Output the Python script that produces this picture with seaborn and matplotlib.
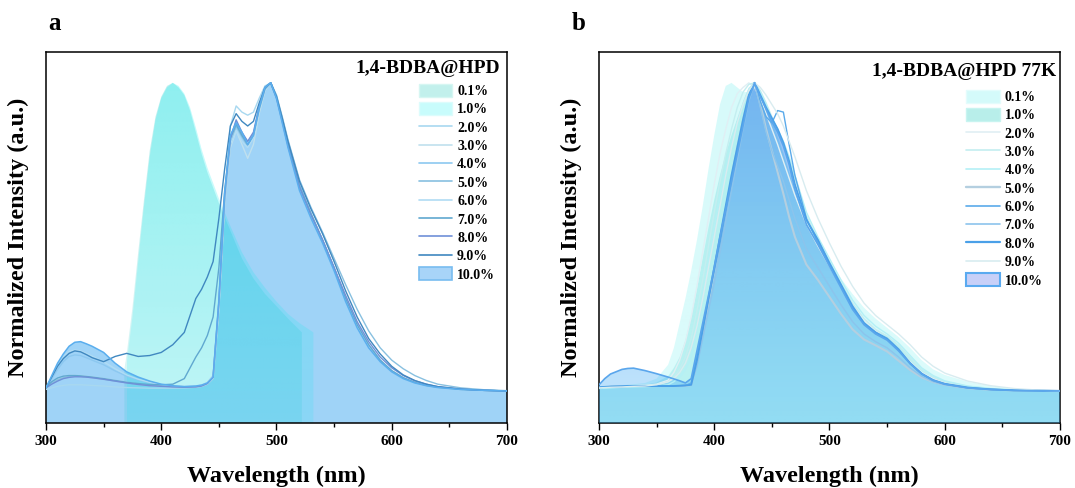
import numpy as np
import matplotlib
matplotlib.use("Agg")
import matplotlib.pyplot as plt
import seaborn as sns
from matplotlib.colors import to_rgb
from matplotlib.patches import Patch
from matplotlib.lines import Line2D
from matplotlib.ticker import MultipleLocator

# ---------------------------------------------------------------- data
CONC_LABELS = ["0.1%", "1.0%", "2.0%", "3.0%", "4.0%", "5.0%",
               "6.0%", "7.0%", "8.0%", "9.0%", "10.0%"]

# Panel a: room-temperature emission
WL_A = [300, 305, 310, 315, 320, 325, 330, 335, 340, 350, 360, 370, 380, 390,
        400, 410, 420, 430, 435, 440, 445, 450, 455, 460, 465, 470, 475, 480,
        485, 490, 495, 500, 505, 510, 520, 530, 540, 550, 560, 570, 580, 590,
        600, 610, 620, 630, 640, 660, 680, 700]

WL_A_01 = [368, 370, 372, 375, 380, 385, 390, 395, 400, 405, 410, 415, 420, 425,
           430, 435, 440, 445, 450, 455, 460, 470, 480, 490, 500, 510, 522]
I_A_01 = [0.07, 0.12, 0.18, 0.27, 0.45, 0.62, 0.78, 0.89, 0.955, 0.99, 1.0, 0.985,
          0.96, 0.91, 0.84, 0.77, 0.71, 0.66, 0.61, 0.565, 0.52, 0.43, 0.365,
          0.315, 0.275, 0.235, 0.19]

WL_A_1 = [370, 372, 375, 380, 385, 390, 395, 400, 405, 410, 415, 420, 425, 430,
          435, 440, 445, 450, 455, 460, 470, 480, 490, 500, 510, 520, 532]
I_A_1 = [0.09, 0.15, 0.24, 0.42, 0.60, 0.76, 0.88, 0.95, 0.985, 1.0, 0.99, 0.965,
         0.92, 0.855, 0.785, 0.725, 0.675, 0.625, 0.58, 0.535, 0.45, 0.385,
         0.335, 0.29, 0.25, 0.22, 0.19]

I_A_2 = [0.005, 0.01, 0.015, 0.018, 0.02, 0.02, 0.02, 0.019, 0.018, 0.016, 0.013,
         0.011, 0.01, 0.009, 0.009, 0.009, 0.01, 0.012, 0.015, 0.022, 0.04, 0.26,
         0.62, 0.86, 0.925, 0.905, 0.895, 0.905, 0.95, 0.99, 1.0, 0.955, 0.88,
         0.80, 0.66, 0.57, 0.485, 0.395, 0.30, 0.215, 0.15, 0.10, 0.066, 0.043,
         0.028, 0.018, 0.012, 0.005, 0.002, 0.0]
I_A_3 = [0.01, 0.025, 0.038, 0.046, 0.05, 0.05, 0.049, 0.047, 0.045, 0.04, 0.034,
         0.028, 0.022, 0.018, 0.015, 0.013, 0.012, 0.013, 0.016, 0.024, 0.045,
         0.27, 0.60, 0.79, 0.845, 0.80, 0.755, 0.80, 0.90, 0.975, 1.0, 0.96,
         0.885, 0.805, 0.665, 0.575, 0.49, 0.40, 0.30, 0.21, 0.145, 0.097, 0.063,
         0.041, 0.027, 0.017, 0.011, 0.005, 0.002, 0.0]
I_A_4 = [0.01, 0.04, 0.07, 0.095, 0.112, 0.117, 0.115, 0.108, 0.10, 0.085, 0.065,
         0.048, 0.036, 0.027, 0.02, 0.016, 0.014, 0.015, 0.018, 0.026, 0.05, 0.30,
         0.63, 0.82, 0.875, 0.835, 0.81, 0.835, 0.92, 0.98, 1.0, 0.95, 0.875,
         0.80, 0.67, 0.575, 0.49, 0.40, 0.305, 0.22, 0.15, 0.10, 0.065, 0.042,
         0.027, 0.018, 0.012, 0.005, 0.002, 0.0]
I_A_5 = [0.012, 0.025, 0.036, 0.043, 0.047, 0.048, 0.047, 0.045, 0.043, 0.038,
         0.032, 0.027, 0.022, 0.018, 0.016, 0.014, 0.013, 0.014, 0.017, 0.025,
         0.045, 0.28, 0.61, 0.80, 0.86, 0.825, 0.795, 0.83, 0.915, 0.98, 1.0,
         0.96, 0.89, 0.815, 0.685, 0.595, 0.515, 0.43, 0.345, 0.265, 0.195, 0.14,
         0.10, 0.072, 0.05, 0.034, 0.022, 0.01, 0.004, 0.001]
I_A_6 = [0.01, 0.045, 0.08, 0.11, 0.128, 0.133, 0.13, 0.122, 0.113, 0.095, 0.072,
         0.052, 0.038, 0.028, 0.021, 0.017, 0.015, 0.016, 0.019, 0.028, 0.05,
         0.29, 0.62, 0.80, 0.845, 0.81, 0.79, 0.82, 0.91, 0.975, 1.0, 0.955,
         0.88, 0.80, 0.66, 0.57, 0.485, 0.395, 0.30, 0.215, 0.148, 0.10, 0.065,
         0.042, 0.027, 0.018, 0.012, 0.005, 0.002, 0.0]
I_A_7 = [0.012, 0.03, 0.042, 0.048, 0.05, 0.05, 0.049, 0.047, 0.045, 0.04, 0.034,
         0.028, 0.024, 0.021, 0.02, 0.022, 0.04, 0.11, 0.14, 0.18, 0.24, 0.40,
         0.65, 0.82, 0.865, 0.83, 0.80, 0.83, 0.915, 0.98, 1.0, 0.955, 0.88,
         0.80, 0.665, 0.575, 0.49, 0.40, 0.30, 0.215, 0.15, 0.10, 0.066, 0.043,
         0.028, 0.018, 0.012, 0.005, 0.002, 0.0]
I_A_8 = [0.01, 0.022, 0.032, 0.04, 0.044, 0.046, 0.046, 0.045, 0.043, 0.038,
         0.032, 0.026, 0.021, 0.017, 0.015, 0.013, 0.012, 0.013, 0.016, 0.024,
         0.045, 0.29, 0.63, 0.82, 0.88, 0.84, 0.81, 0.84, 0.925, 0.985, 1.0,
         0.95, 0.875, 0.795, 0.66, 0.57, 0.49, 0.40, 0.31, 0.225, 0.16, 0.11,
         0.075, 0.05, 0.033, 0.022, 0.014, 0.006, 0.002, 0.0]
I_A_9 = [0.01, 0.045, 0.08, 0.105, 0.122, 0.13, 0.127, 0.118, 0.108, 0.095, 0.112,
         0.122, 0.112, 0.115, 0.125, 0.15, 0.19, 0.30, 0.33, 0.37, 0.42, 0.56,
         0.72, 0.86, 0.90, 0.875, 0.86, 0.875, 0.935, 0.985, 1.0, 0.955, 0.885,
         0.81, 0.68, 0.59, 0.51, 0.42, 0.325, 0.24, 0.17, 0.12, 0.08, 0.052,
         0.034, 0.022, 0.014, 0.006, 0.002, 0.0]
I_A_10 = [0.01, 0.05, 0.09, 0.12, 0.145, 0.158, 0.16, 0.153, 0.145, 0.125, 0.09,
          0.062, 0.045, 0.032, 0.022, 0.017, 0.014, 0.016, 0.019, 0.026, 0.045,
          0.29, 0.64, 0.83, 0.87, 0.84, 0.80, 0.83, 0.92, 0.985, 1.0, 0.95, 0.87,
          0.79, 0.65, 0.56, 0.48, 0.39, 0.29, 0.205, 0.14, 0.095, 0.062, 0.04,
          0.026, 0.017, 0.011, 0.005, 0.002, 0.0]

# Panel b: 77 K emission
WL_B = [300, 305, 310, 320, 325, 330, 340, 350, 360, 365, 370, 375, 380, 385,
        390, 395, 400, 405, 410, 415, 420, 425, 430, 435, 440, 445, 450, 455,
        460, 465, 470, 480, 490, 500, 510, 520, 530, 540, 550, 560, 570, 580,
        590, 600, 620, 640, 660, 680, 700]

I_B_01 = [0.01, 0.012, 0.014, 0.018, 0.02, 0.022, 0.026, 0.04, 0.085,
          0.14, 0.22, 0.30, 0.39, 0.49, 0.60, 0.72, 0.83, 0.93, 0.99, 1.0, 0.985,
          0.97, 0.97, 0.975, 0.955, 0.925, 0.88, 0.83, 0.775, 0.715, 0.66,
          0.56, 0.485, 0.425, 0.365, 0.315, 0.27, 0.235, 0.205, 0.175, 0.14,
          0.10, 0.07, 0.052, 0.03, 0.016, 0.007, 0.003, 0.0]
I_B_1 = [0.01, 0.011, 0.012, 0.015, 0.016, 0.017, 0.02, 0.028, 0.048,
         0.075, 0.11, 0.165, 0.24, 0.33, 0.43, 0.53, 0.62, 0.70, 0.77, 0.83,
         0.885, 0.94, 0.985, 1.0, 0.97, 0.925, 0.875, 0.825, 0.77, 0.71, 0.65,
         0.545, 0.475, 0.41, 0.345, 0.285, 0.235, 0.2, 0.18, 0.15, 0.11, 0.072,
         0.048, 0.032, 0.016, 0.008, 0.003, 0.001, 0.0]
I_B_2 = [0.01, 0.012, 0.013, 0.015, 0.016, 0.017, 0.018, 0.022, 0.035,
         0.06, 0.1, 0.16, 0.24, 0.34, 0.45, 0.56, 0.67, 0.77, 0.85, 0.92, 0.965,
         0.985, 1.0, 0.985, 0.95, 0.90, 0.85, 0.80, 0.745, 0.69, 0.635,
         0.54, 0.47, 0.405, 0.34, 0.28, 0.23, 0.195, 0.17, 0.135, 0.095, 0.06,
         0.04, 0.027, 0.013, 0.006, 0.002, 0.001, 0.0]
I_B_3 = [0.01, 0.011, 0.012, 0.014, 0.015, 0.016, 0.017, 0.02, 0.03,
         0.045, 0.07, 0.11, 0.17, 0.26, 0.36, 0.47, 0.58, 0.68, 0.77, 0.85, 0.92,
         0.97, 0.995, 1.0, 0.975, 0.935, 0.89, 0.845, 0.80, 0.75, 0.69,
         0.57, 0.49, 0.42, 0.35, 0.285, 0.235, 0.20, 0.178, 0.148, 0.108, 0.07,
         0.046, 0.03, 0.015, 0.007, 0.003, 0.001, 0.0]
I_B_4 = [0.008, 0.009, 0.01, 0.012, 0.013, 0.013, 0.014, 0.016, 0.02,
         0.03, 0.045, 0.07, 0.11, 0.2, 0.31, 0.42, 0.53, 0.63, 0.72, 0.80, 0.87,
         0.93, 0.98, 1.0, 0.97, 0.93, 0.885, 0.85, 0.81, 0.76, 0.70,
         0.58, 0.50, 0.43, 0.36, 0.295, 0.245, 0.21, 0.185, 0.155, 0.115, 0.075,
         0.05, 0.033, 0.016, 0.008, 0.003, 0.001, 0.0]
I_B_5 = [0.012, 0.013, 0.014, 0.015, 0.016, 0.016, 0.016, 0.016, 0.016,
         0.016, 0.016, 0.017, 0.02, 0.09, 0.19, 0.29, 0.39, 0.49, 0.59, 0.69,
         0.79, 0.88, 0.96, 1.0, 0.93, 0.85, 0.78, 0.71, 0.64, 0.565, 0.50,
         0.41, 0.36, 0.305, 0.25, 0.2, 0.167, 0.148, 0.128, 0.098, 0.068, 0.044,
         0.029, 0.02, 0.009, 0.004, 0.002, 0.001, 0.0]
I_B_6 = [0.012, 0.013, 0.014, 0.015, 0.016, 0.016, 0.016, 0.016, 0.016,
         0.016, 0.017, 0.018, 0.025, 0.11, 0.2, 0.3, 0.39, 0.48, 0.58, 0.68,
         0.78, 0.87, 0.95, 1.0, 0.94, 0.89, 0.87, 0.91, 0.905, 0.80, 0.70,
         0.56, 0.48, 0.41, 0.34, 0.27, 0.22, 0.19, 0.168, 0.132, 0.09, 0.056,
         0.035, 0.023, 0.01, 0.005, 0.002, 0.001, 0.0]
I_B_7 = [0.012, 0.013, 0.014, 0.015, 0.016, 0.016, 0.016, 0.016, 0.016,
         0.016, 0.017, 0.018, 0.022, 0.08, 0.17, 0.26, 0.35, 0.45, 0.55, 0.65,
         0.75, 0.85, 0.94, 1.0, 0.92, 0.84, 0.78, 0.73, 0.68, 0.62, 0.56,
         0.46, 0.40, 0.34, 0.28, 0.225, 0.185, 0.16, 0.14, 0.11, 0.075, 0.048,
         0.03, 0.02, 0.009, 0.004, 0.002, 0.001, 0.0]
I_B_8 = [0.012, 0.013, 0.014, 0.015, 0.016, 0.016, 0.016, 0.016, 0.016,
         0.016, 0.017, 0.018, 0.02, 0.1, 0.2, 0.3, 0.40, 0.50, 0.60, 0.70,
         0.79, 0.88, 0.96, 1.0, 0.96, 0.92, 0.885, 0.85, 0.805, 0.745, 0.67,
         0.555, 0.49, 0.415, 0.345, 0.275, 0.22, 0.19, 0.17, 0.135, 0.09, 0.056,
         0.035, 0.023, 0.011, 0.005, 0.002, 0.001, 0.0]
I_B_9 = [0.01, 0.011, 0.012, 0.013, 0.014, 0.015, 0.016, 0.02, 0.03,
         0.04, 0.06, 0.09, 0.14, 0.21, 0.30, 0.40, 0.50, 0.60, 0.70, 0.79, 0.87,
         0.93, 0.975, 1.0, 0.985, 0.96, 0.93, 0.90, 0.86, 0.81, 0.76,
         0.65, 0.56, 0.48, 0.405, 0.34, 0.285, 0.245, 0.215, 0.185, 0.15, 0.11,
         0.08, 0.058, 0.032, 0.017, 0.008, 0.003, 0.0]
I_B_10 = [0.02, 0.04, 0.055, 0.07, 0.073, 0.074, 0.066, 0.056, 0.045,
          0.039, 0.033, 0.026, 0.04, 0.13, 0.22, 0.31, 0.40, 0.50, 0.59, 0.68,
          0.77, 0.86, 0.95, 1.0, 0.955, 0.915, 0.875, 0.84, 0.795, 0.735, 0.655,
          0.54, 0.475, 0.405, 0.335, 0.265, 0.215, 0.185, 0.165, 0.13, 0.088,
          0.055, 0.034, 0.022, 0.01, 0.005, 0.002, 0.001, 0.0]

# line colours for the 2.0 % ... 9.0 % traces
COLORS_A = ["#a8d8f0", "#c0e0ee", "#8cc8f0", "#88c0e0",
            "#b0dcf4", "#60a8d0", "#7090d8", "#4088c0"]
COLORS_B = ["#e0eff4", "#c4eef0", "#b4f0f6", "#b4cfe0",
            "#5aaaea", "#8cc4ec", "#4aa0e8", "#d8ecf0"]
WIDTHS_B = [1.0, 1.0, 1.0, 1.5, 1.0, 1.0, 1.4, 1.0]

XLIM = (300, 700)
YLIM = (-0.104, 1.10)

# ---------------------------------------------------------------- style
sns.set_theme(style="ticks")
plt.rcParams["font.family"] = ["Liberation Serif", "DejaVu Serif"]
plt.rcParams["font.weight"] = "bold"
plt.rcParams["axes.labelweight"] = "bold"
plt.rcParams["text.color"] = "black"
plt.rcParams["axes.labelcolor"] = "black"
plt.rcParams["xtick.color"] = "black"
plt.rcParams["xtick.labelcolor"] = "black"
plt.rcParams["axes.edgecolor"] = "black"
plt.rcParams["axes.linewidth"] = 1.1


def gradient_fill(ax, x, y, c_top, c_bottom, a_top, a_bottom, z):
    """Fill under a spectrum down to the frame with a vertical colour ramp."""
    x = np.asarray(x, float)
    y = np.asarray(y, float)
    floor = YLIM[0]
    poly = ax.fill_between(x, y, floor, facecolor="none", edgecolor="none",
                           zorder=z)
    n = 256
    t = np.linspace(0.0, 1.0, n)[:, None]
    img = np.zeros((n, 1, 4))
    img[:, 0, :3] = (1 - t) * np.array(to_rgb(c_bottom)) + t * np.array(to_rgb(c_top))
    img[:, 0, 3] = a_bottom + (a_top - a_bottom) * t[:, 0]
    im = ax.imshow(img, extent=[x.min(), x.max(), floor, 1.0], origin="lower",
                   aspect="auto", interpolation="bilinear", zorder=z)
    im.set_clip_path(poly.get_paths()[0], transform=ax.transData)


def style_axes(ax):
    ax.set_xlim(*XLIM)
    ax.set_ylim(*YLIM)
    ax.set_yticks([])
    ax.xaxis.set_major_locator(MultipleLocator(100))
    ax.xaxis.set_minor_locator(MultipleLocator(50))
    ax.tick_params(axis="x", which="major", direction="out", length=5,
                   width=1.0, labelsize=11, pad=4, top=False, color="black",
                   labelcolor="black")
    ax.tick_params(axis="x", which="minor", direction="out", length=3,
                   width=1.0, top=False, color="black")
    for lab in ax.get_xticklabels():
        lab.set_fontweight("bold")
    for sp in ax.spines.values():
        sp.set_visible(True)
        sp.set_color("black")
        sp.set_linewidth(1.1)
    ax.set_xlabel("Wavelength (nm)", fontsize=17.5, fontweight="bold",
                  labelpad=12.5, color="black")
    ax.set_ylabel("Normalized Intensity (a.u.)", fontsize=17.5,
                  fontweight="bold", labelpad=12, color="black")


fig = plt.figure(figsize=(10.75, 4.88), dpi=100)
ax_a = fig.add_axes([0.0428, 0.1332, 0.4288, 0.7602])
ax_b = fig.add_axes([0.5572, 0.1332, 0.4288, 0.7602])

# ---------------------------------------------------------------- panel a
gradient_fill(ax_a, WL_A, I_A_10, "#3fa8f0", "#3fa8f0", 0.50, 0.50, z=1)
gradient_fill(ax_a, WL_A_01, I_A_01, "#10c8c8", "#10c8c8", 0.27, 0.14, z=2)
gradient_fill(ax_a, WL_A_1, I_A_1, "#00eef0", "#00eef0", 0.25, 0.13, z=2)

lines_a = [I_A_2, I_A_3, I_A_4, I_A_5, I_A_6, I_A_7, I_A_8, I_A_9]
for vals, col in zip(lines_a, COLORS_A):
    sns.lineplot(x=WL_A, y=vals, ax=ax_a, color=col, lw=1.0, sort=False,
                 estimator=None, zorder=3)
sns.lineplot(x=WL_A, y=I_A_10, ax=ax_a, color="#5aaeee", lw=1.1, sort=False,
             estimator=None, zorder=4)
style_axes(ax_a)

handles_a = [Patch(facecolor="#c2f0ec", edgecolor="#d6f6f2"),
             Patch(facecolor="#c8fcfc", edgecolor="#dcfcfc")]
handles_a += [Line2D([], [], color=c, lw=1.2) for c in COLORS_A]
handles_a += [Patch(facecolor="#a8d4f8", edgecolor="#78bcf0", lw=1.2)]

# ---------------------------------------------------------------- panel b
gradient_fill(ax_b, WL_B, I_B_01, "#00e4e4", "#00e4e4", 0.16, 0.14, z=1)
gradient_fill(ax_b, WL_B, I_B_1, "#20c8c8", "#20c8c8", 0.20, 0.18, z=2)
gradient_fill(ax_b, WL_B, I_B_10, "#4a8cf0", "#40b0f8", 0.60, 0.32, z=3)

lines_b = [I_B_2, I_B_3, I_B_4, I_B_5, I_B_6, I_B_7, I_B_8, I_B_9]
for vals, col, lw in zip(lines_b, COLORS_B, WIDTHS_B):
    sns.lineplot(x=WL_B, y=vals, ax=ax_b, color=col, lw=lw, sort=False,
                 estimator=None, zorder=4)
sns.lineplot(x=WL_B, y=I_B_10, ax=ax_b, color="#5aa6ec", lw=1.2, sort=False,
             estimator=None, zorder=5)
style_axes(ax_b)

handles_b = [Patch(facecolor="#d4fafa", edgecolor="#e4fcfc"),
             Patch(facecolor="#b8eeea", edgecolor="#c8f4f0")]
handles_b += [Line2D([], [], color=c, lw=w + 0.2)
              for c, w in zip(COLORS_B, WIDTHS_B)]
handles_b += [Patch(facecolor="#c8d0f8", edgecolor="#5aaaf0", lw=1.5)]

# ---------------------------------------------------------------- legends
legend_kw = dict(loc="upper left", frameon=False,
                 prop={"family": "Liberation Serif", "weight": "bold",
                       "size": 10},
                 handlelength=2.4, handleheight=1.05, handletextpad=0.35,
                 labelspacing=0.3, borderaxespad=0.0, borderpad=0.0)
ax_a.legend(handles_a, CONC_LABELS, bbox_to_anchor=(0.809, 0.914), **legend_kw)
ax_b.legend(handles_b, CONC_LABELS, bbox_to_anchor=(0.797, 0.898), **legend_kw)

ax_a.text(0.985, 0.978, "1,4-BDBA@HPD", transform=ax_a.transAxes,
          ha="right", va="top", fontsize=14, fontweight="bold")
ax_b.text(0.993, 0.970, "1,4-BDBA@HPD 77K", transform=ax_b.transAxes,
          ha="right", va="top", fontsize=14, fontweight="bold")

fig.text(54 / 1075, 1 - 24 / 488, "a", ha="center", va="center",
         fontsize=18, fontweight="bold")
fig.text(579 / 1075, 1 - 23 / 488, "b", ha="center", va="center",
         fontsize=18, fontweight="bold")

fig.savefig("out.png", dpi=100)
